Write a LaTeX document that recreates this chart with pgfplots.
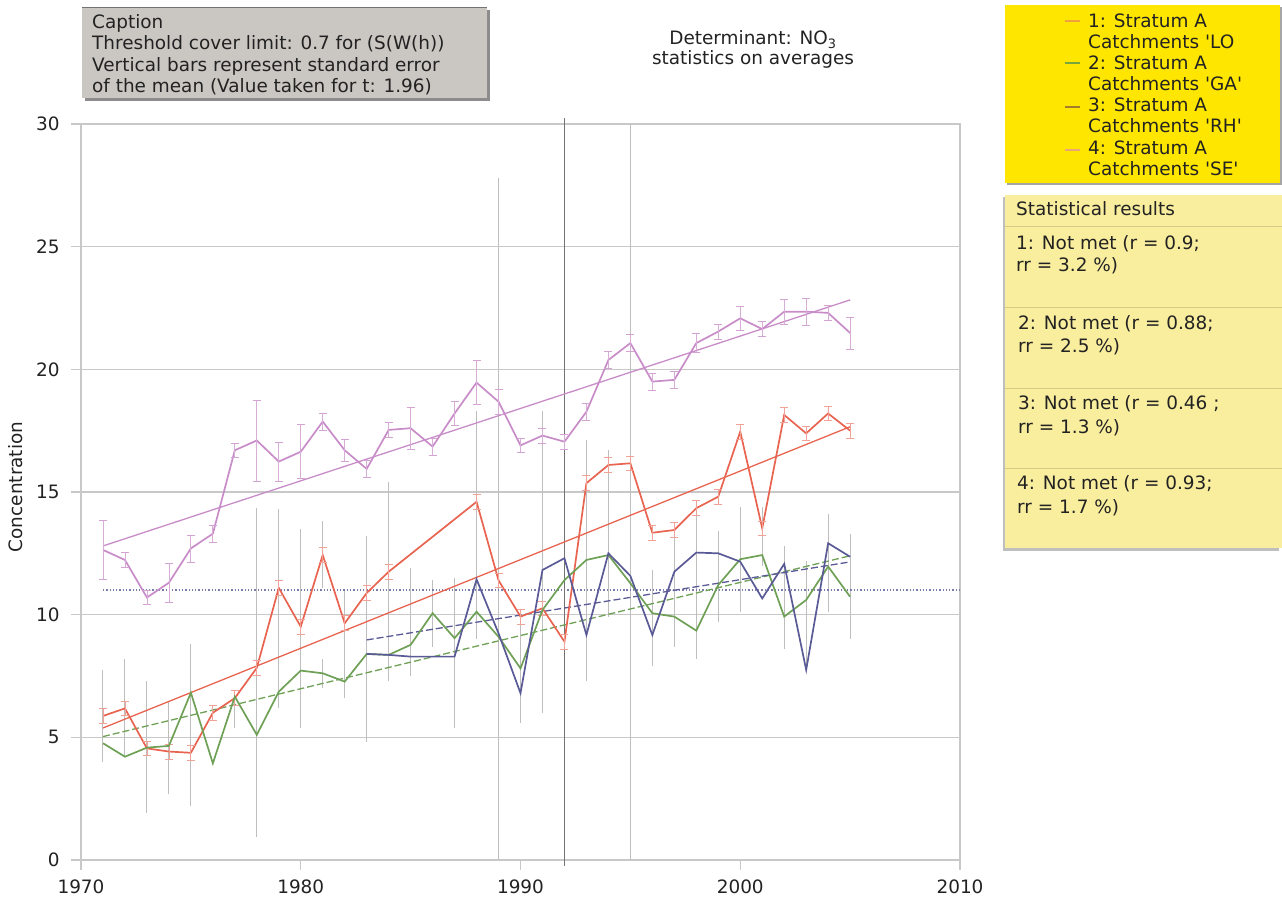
\documentclass[border=0pt]{standalone}
\usepackage{pgfplots}
\usepackage{pgfplotstable}
\pgfplotsset{compat=1.18}
\usepackage{fontspec}
\setmainfont{DejaVu Sans}[Ligatures=TeXOff]
\definecolor{pinkc}{RGB}{200,140,200}
\definecolor{redc}{RGB}{232,100,80}
\definecolor{greenc}{RGB}{110,160,85}
\definecolor{bluec}{RGB}{90,90,150}
\definecolor{gridc}{RGB}{200,200,200}
\definecolor{barc}{RGB}{190,190,190}
\definecolor{capgray}{RGB}{202,199,194}
\definecolor{legyel}{RGB}{255,230,0}
\definecolor{statyel}{RGB}{249,237,158}
\definecolor{txt}{RGB}{34,34,34}
\newcommand\F{\fontsize{18.5}{22}\selectfont}

\pgfplotstableread{
x y
1971 5.87
1972 6.18
1973 4.55
1974 4.42
1975 4.37
1976 6.0
1977 6.6
1978 7.83
1979 11.09
1980 9.51
1981 12.43
1982 9.65
1983 10.88
1984 11.75
1988 14.6
1989 11.4
1990 9.92
1991 10.26
1992 8.9
1993 15.36
1994 16.1
1995 16.17
1996 13.34
1997 13.45
1998 14.34
1999 14.81
2000 17.46
2001 13.52
2002 18.14
2003 17.39
2004 18.2
2005 17.5
}\seriesA

\pgfplotstableread{
x y
1971 4.76
1972 4.21
1973 4.58
1974 4.65
1975 6.82
1976 3.94
1977 6.66
1978 5.1
1979 6.86
1980 7.72
1981 7.61
1982 7.27
1983 8.4
1984 8.36
1985 8.77
1986 10.06
1987 9.04
1988 10.12
1989 9.1
1990 7.81
1991 10.19
1992 11.41
1993 12.23
1994 12.43
1995 11.28
1996 10.06
1997 9.92
1998 9.35
1999 11.21
2000 12.26
2001 12.43
2002 9.92
2003 10.6
2004 11.96
2005 10.73
}\seriesB

\pgfplotstableread{
x y
1983 8.4
1984 8.36
1985 8.29
1986 8.29
1987 8.29
1988 11.44
1989 9.24
1990 6.8
1991 11.82
1992 12.3
1993 9.17
1994 12.5
1995 11.58
1996 9.17
1997 11.75
1998 12.53
1999 12.5
2000 12.16
2001 10.66
2002 12.07
2003 7.75
2004 12.91
2005 12.36
}\seriesC

\pgfplotstableread{
x y e
1971 12.64 1.2
1972 12.23 0.3
1973 10.7 0.3
1974 11.3 0.8
1975 12.7 0.55
1976 13.3 0.35
1977 16.7 0.3
1978 17.1 1.65
1979 16.24 0.8
1980 16.64 1.1
1981 17.87 0.35
1982 16.7 0.45
1983 15.94 0.35
1984 17.53 0.3
1985 17.6 0.85
1986 16.85 0.35
1987 18.2 0.5
1988 19.46 0.9
1989 18.68 0.5
1990 16.9 0.3
1991 17.3 0.3
1992 17.05 0.3
1993 18.27 0.35
1994 20.38 0.35
1995 21.07 0.35
1996 19.5 0.35
1997 19.57 0.35
1998 21.07 0.4
1999 21.54 0.3
2000 22.08 0.5
2001 21.64 0.3
2002 22.35 0.5
2003 22.35 0.55
2004 22.3 0.3
2005 21.48 0.65
}\seriesD

\pgfplotstableread{
x c e
1971 5.875 1.875
1972 6.2 2.0
1973 4.6 2.7
1974 4.6 1.9
1975 5.5 3.3
1977 6.1 0.7
1978 7.65 6.7
1979 10.25 4.05
1980 9.45 4.05
1981 12.45 1.35
1981 7.6 0.6
1982 8.8 2.2
1983 9.0 4.2
1984 11.35 4.05
1985 9.7 2.2
1986 10.05 1.35
1987 8.45 3.05
1988 13.65 4.65
1989 13.9 13.9
1990 7.85 2.25
1991 12.15 6.15
1993 12.2 4.9
1994 13.3 3.4
1995 15.0 15.0
1996 9.85 1.95
1997 11.0 2.3
1998 11.4 3.2
1999 11.55 1.85
2000 12.25 2.15
2001 13.2 1.2
2002 10.7 2.1
2003 9.975 2.225
2004 12.1 2.0
2005 11.15 2.15
}\graybars

\begin{document}
\begin{tikzpicture}[x=1bp,y=1bp]
\useasboundingbox (-81,-47) rectangle (1201,860);
% caption box
\fill[black!45] (4,850) rectangle (409,759);
\fill[capgray] (1,853) rectangle (406,762);
\draw[black!55, line width=0.8bp] (1,853) -- (406,853);
\node[anchor=base west, inner sep=0, font=\F, text=txt] at (11,831.5) {Caption};
\node[anchor=base west, inner sep=0, font=\F, text=txt] at (11,810) {Threshold cover limit: 0.7 for (S(W(h))};
\node[anchor=base west, inner sep=0, font=\F, text=txt] at (11,788.5) {Vertical bars represent standard error};
\node[anchor=base west, inner sep=0, font=\F, text=txt] at (11,767) {of the mean (Value taken for t: 1.96)};
% title
\node[anchor=base, inner sep=0, font=\F, text=txt] at (672,815) {Determinant: NO\textsubscript{3}};
\node[anchor=base, inner sep=0, font=\F, text=txt] at (672,795) {statistics on averages};
% legend box
\fill[black!35] (926,853) rectangle (1201,675);
\fill[legyel] (924,855) rectangle (1199,677);
\draw[line width=2bp, color={rgb,255:red,240;green,160;blue,60}] (984,839.3) -- (999,839.3);
\draw[line width=2bp, color={rgb,255:red,120;green,165;blue,60}] (984,797) -- (999,797);
\draw[line width=2bp, color={rgb,255:red,165;green,125;blue,40}] (984,753.3) -- (999,753.3);
\draw[line width=2bp, color={rgb,255:red,235;green,165;blue,120}] (984,710) -- (999,710);
\foreach \yy/\tt in {832.7/{1: Stratum A}, 811.7/{Catchments 'LO}, 790/{2: Stratum A}, 769.3/{Catchments 'GA'}, 748.3/{3: Stratum A}, 727.3/{Catchments 'RH'}, 705/{4: Stratum A}, 684/{Catchments 'SE'}}
  \node[anchor=base west, inner sep=0, font=\F, text=txt] at (1007,\yy) {\tt};
% stats box
\fill[black!25] (922,663) rectangle (1198,309);
\fill[statyel] (924,665) rectangle (1201,312);
\foreach \yy in {633.3,552.7,471.7,391.7}
  \draw[color={rgb,255:red,215;green,202;blue,135}, line width=1.3bp] (924,\yy) -- (1201,\yy);
\node[anchor=base west, inner sep=0, font=\F, text=txt] at (935,644) {Statistical results};
\node[anchor=base west, inner sep=0, font=\F, text=txt] at (935,610.7) {1: Not met (r = 0.9;};
\node[anchor=base west, inner sep=0, font=\F, text=txt] at (935,588.3) {rr = 3.2 \%)};
\node[anchor=base west, inner sep=0, font=\F, text=txt] at (937,530.7) {2: Not met (r = 0.88;};
\node[anchor=base west, inner sep=0, font=\F, text=txt] at (937,507.3) {rr = 2.5 \%)};
\node[anchor=base west, inner sep=0, font=\F, text=txt] at (937,450) {3: Not met (r = 0.46 ;};
\node[anchor=base west, inner sep=0, font=\F, text=txt] at (937,426.7) {rr = 1.3 \%)};
\node[anchor=base west, inner sep=0, font=\F, text=txt] at (936,370) {4: Not met (r = 0.93;};
\node[anchor=base west, inner sep=0, font=\F, text=txt] at (936,346.7) {rr = 1.7 \%)};
% y label
\node[rotate=90, font=\F, text=txt, inner sep=0] at (-65.5,373) {Concentration};

\begin{axis}[
  at={(0,0)}, anchor=south west,
  scale only axis, width=879bp, height=736bp,
  xmin=1970, xmax=2010, ymin=0, ymax=30,
  xtick={1970,1980,1990,2000,2010}, ytick={0,5,10,15,20,25,30},
  tick pos=left, tick align=outside, major tick length=10bp,
  ymajorgrids, grid style={gridc, line width=1.6bp},
  axis line style={gridc, line width=1.3bp},
  tick style={gridc, line width=1.3bp},
  /pgf/number format/1000 sep={},
  /pgf/number format/assume math mode=true,
  ticklabel style={font=\F, text=txt},
  xticklabel style={yshift=-6bp},
  yticklabel style={xshift=-8bp},
  clip=false,
]
% gray error bars
\addplot[draw=none, mark=none, forget plot,
  error bars/.cd, y dir=both, y explicit,
  error bar style={draw=barc, line width=1bp}, error mark=none]
  table[x=x, y=c, y error=e] {\graybars};
% dotted reference line
\addplot[bluec!80, dotted, line width=1.3bp] coordinates {(1971,11) (2010,11)};
% vertical line 1992
\addplot[black!55, line width=1.4bp] coordinates {(1992,-0.25) (1992,30.25)};
% trend lines
\addplot[pinkc, line width=1.3bp] coordinates {(1971,12.8) (2005,22.83)};
\addplot[redc, line width=1.3bp] coordinates {(1971,5.38) (2005,17.66)};
\addplot[greenc, line width=1.3bp, dash pattern=on 7bp off 3bp] coordinates {(1971,5.03) (2005,12.4)};
\addplot[bluec, line width=1.3bp, dash pattern=on 7bp off 3bp] coordinates {(1983,8.97) (2005,12.15)};
% series
\addplot[pinkc, line width=1.7bp, mark=none,
  error bars/.cd, y dir=both, y explicit,
  error bar style={pinkc!70, line width=0.8bp},
  error mark options={pinkc!80, mark size=4bp, rotate=90, line width=0.8bp}]
  table[x=x, y=y, y error=e] {\seriesD};
\addplot[redc, line width=1.7bp, mark=none,
  error bars/.cd, y dir=both, y fixed=0.3,
  error bar style={redc!60, line width=0.8bp},
  error mark options={redc!60, mark size=4bp, rotate=90, line width=0.8bp}]
  table[x=x, y=y] {\seriesA};
\addplot[greenc, line width=1.7bp, mark=none] table[x=x, y=y] {\seriesB};
\addplot[bluec, line width=1.7bp, mark=none] table[x=x, y=y] {\seriesC};
\end{axis}
\end{tikzpicture}
\end{document}
